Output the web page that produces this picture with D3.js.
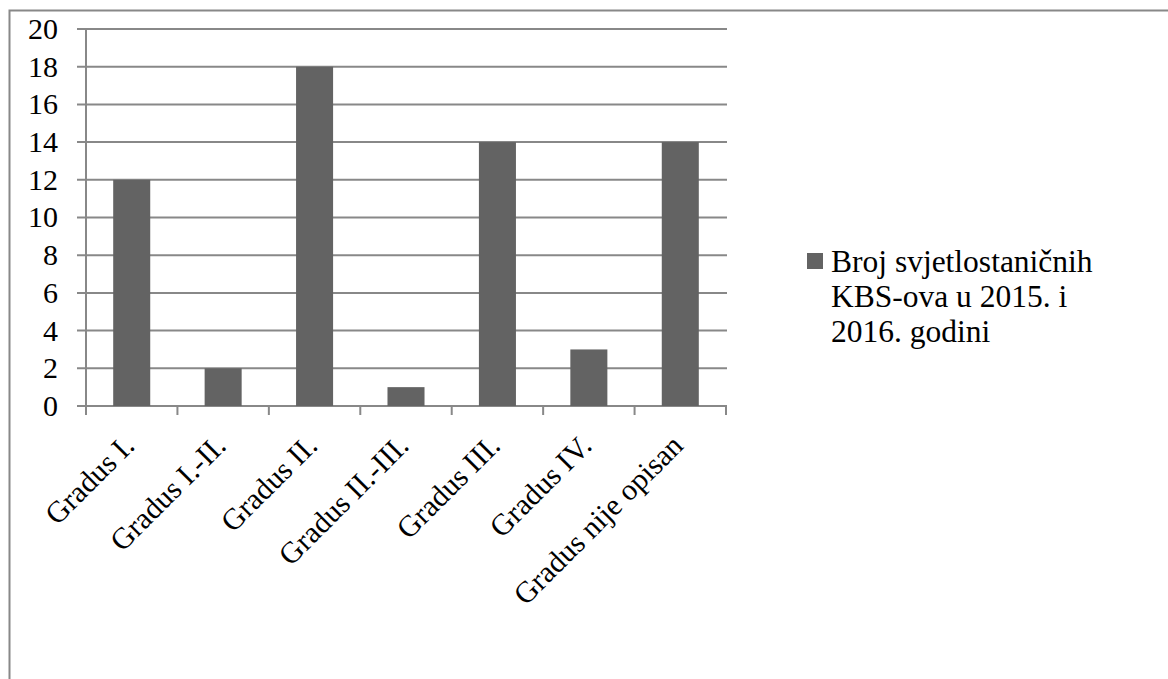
<!DOCTYPE html>
<html><head><meta charset="utf-8">
<script src="https://cdn.jsdelivr.net/npm/d3@7/dist/d3.min.js"></script>
<style>body{margin:0;background:#fff}svg{display:block}</style>
</head><body><svg id="c" width="1168" height="679"></svg>
<script>
const categories = ["Gradus I.", "Gradus I.-II.", "Gradus II.", "Gradus II.-III.", "Gradus III.", "Gradus IV.", "Gradus nije opisan"];
const values = [12, 2, 18, 1, 14, 3, 14];
const yTicks = [0, 2, 4, 6, 8, 10, 12, 14, 16, 18, 20];
const seriesName = ["Broj svjetlostaničnih", "KBS-ova u 2015. i", "2016. godini"];

const FONT = "Liberation Serif";
const FS = "30px";
const FSL = "31.5px";
const svg = d3.select("#c");

svg.append("rect").attr("x", 9.5).attr("y", 10.5).attr("width", 1170).attr("height", 700)
  .attr("fill", "none").attr("stroke", "#888").attr("stroke-width", 2);

const L = 86, R = 726, T = 29, B = 406;
const x = d3.scaleBand().domain(categories).range([L, R]).paddingInner(0.595).paddingOuter(0.2975);
const xb = d3.scaleBand().domain(categories).range([L, R]);
const y = d3.scaleLinear().domain([0, 20]).range([B, T]);

svg.append("g").selectAll("line").data(yTicks).join("line")
  .attr("x1", L - 9).attr("x2", R + 1).attr("y1", d => y(d)).attr("y2", d => y(d))
  .attr("stroke", "#888").attr("stroke-width", 2);
svg.append("g").selectAll("text").data(yTicks).join("text")
  .attr("x", 58).attr("y", d => y(d)).attr("dy", "0.33em").attr("text-anchor", "end")
  .style("font-family", FONT).style("font-size", FS).attr("fill", "#000").text(d => d);
svg.append("line").attr("x1", L).attr("x2", L).attr("y1", T).attr("y2", B + 9)
  .attr("stroke", "#888").attr("stroke-width", 2);
const tickXs = categories.map(c => xb(c)).concat([R]);
svg.append("g").selectAll("line").data(tickXs).join("line")
  .attr("x1", d => d).attr("x2", d => d).attr("y1", B).attr("y2", B + 9)
  .attr("stroke", "#888").attr("stroke-width", 2);
svg.append("g").selectAll("rect").data(values).join("rect")
  .attr("x", (d, i) => x(categories[i])).attr("width", x.bandwidth())
  .attr("y", d => y(d)).attr("height", d => B - y(d)).attr("fill", "#636363");
svg.append("g").selectAll("text").data(categories).join("text")
  .attr("transform", c => `translate(${xb(c) + xb.bandwidth() / 2 - 3},${B + 34}) rotate(-45)`)
  .attr("text-anchor", "end").attr("dy", "0.35em")
  .style("font-family", FONT).style("font-size", FS).attr("fill", "#000").text(c => c);
svg.append("rect").attr("x", 807).attr("y", 253).attr("width", 16).attr("height", 16).attr("fill", "#636363");
svg.append("g").selectAll("text").data(seriesName).join("text")
  .attr("x", 831).attr("y", (d, i) => 272 + i * 35)
  .style("font-family", FONT).style("font-size", FSL).attr("fill", "#000").text(d => d);
</script></body></html>
